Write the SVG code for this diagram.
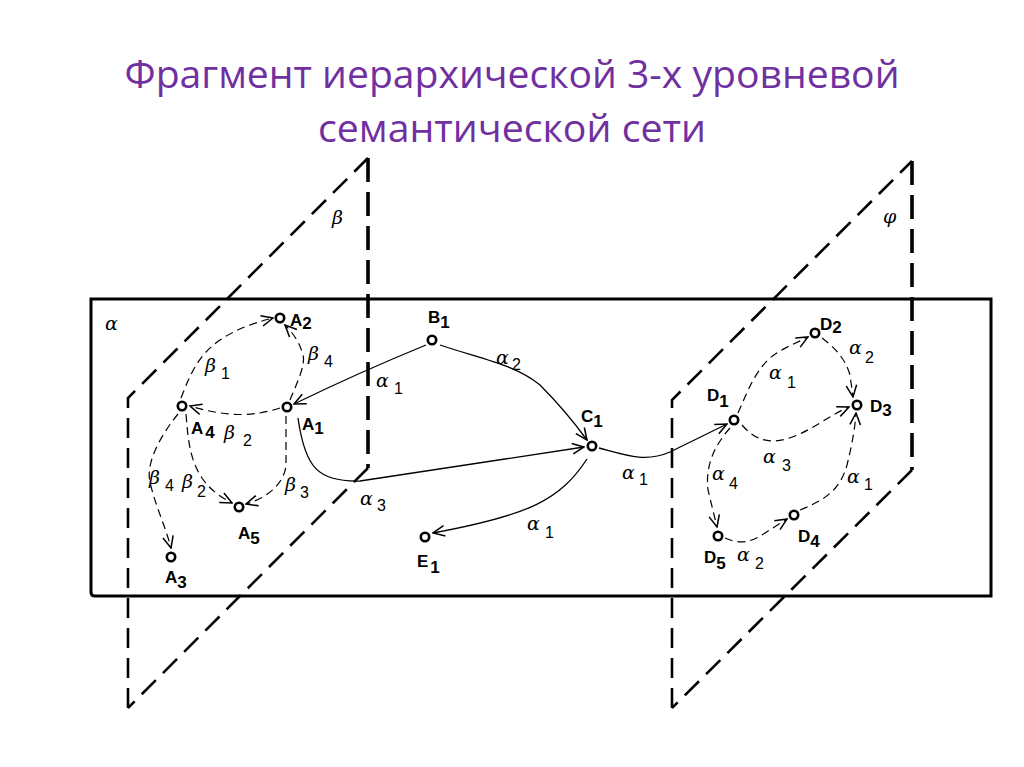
<svg xmlns="http://www.w3.org/2000/svg" width="1024" height="767" viewBox="0 0 1024 767">
<style>
.title{font-family:"Open Sans","Liberation Sans",sans-serif;font-size:38px;fill:#7030A0;text-anchor:middle}
.frame{fill:none;stroke:#000;stroke-width:3}
.plane{fill:none;stroke:#000;stroke-width:2.6;stroke-dasharray:20 10}
.planev{fill:none;stroke:#000;stroke-width:3.6;stroke-dasharray:24 10}
.node{fill:#fff;stroke:#000;stroke-width:2.6}
.lbl{font-family:"Liberation Sans",Arial,sans-serif;font-weight:bold;font-size:17px;fill:#000}
.sub{font-family:"Liberation Sans",Arial,sans-serif;font-weight:bold;font-size:17px;fill:#000}
.gk{font-family:"DejaVu Serif","Liberation Serif",serif;font-style:italic;font-size:19px;fill:#000}
.num{font-family:"Liberation Sans",Arial,sans-serif;font-size:16px;fill:#000}
.solid{fill:none;stroke:#000;stroke-width:1.3;marker-end:url(#arr)}
.dash{fill:none;stroke:#000;stroke-width:1.2;stroke-dasharray:8 5;marker-end:url(#arr)}
</style>
<defs>
<marker id="arr" markerUnits="userSpaceOnUse" markerWidth="14" markerHeight="14" viewBox="0 0 12 12" refX="11" refY="6" orient="auto">
<path d="M1,1.5 L11,6 L1,10.5" fill="none" stroke="#000" stroke-width="1.3"/>
</marker>
</defs>
<rect width="1024" height="767" fill="#fff"/>
<text class="title" x="512" y="88" textLength="775" lengthAdjust="spacingAndGlyphs">Фрагмент иерархической 3-х уровневой</text>
<text class="title" x="512" y="142" textLength="388" lengthAdjust="spacingAndGlyphs">семантической сети</text>

<g id="plane-alpha">
<path class="frame" d="M91,299 L991,299 L991,596 L95,596 Q91,596 91,592 Z"/>
<text class="gk" x="105" y="330">α</text>
</g>
<g id="plane-beta">
<path class="plane" d="M128,708 L128,398 L368,158"/>
<path class="planev" d="M368,158 L368,468"/>
<path class="plane" d="M368,468 L128,708"/>
<text class="gk" x="332" y="224">β</text>
</g>
<g id="plane-phi">
<path class="plane" d="M672,708 L672,400 L912,161"/>
<path class="planev" d="M912,161 L912,470"/>
<path class="plane" d="M912,470 L672,708"/>
<text class="gk" x="883" y="223">φ</text>
</g>

<g id="connectors">
<path class="solid" d="M426,345 Q360,372 294,404"/>
<path class="solid" d="M440,345 C485,360 515,365 540,385 Q565,410 587,440"/>
<path class="solid" d="M298,418 C305,468 318,482 360,481 L584,447"/>
<path class="solid" d="M599,448 C625,455 645,463 670,452 L727,424"/>
<path class="solid" d="M587,459 C560,500 530,515 433,533"/>
<path class="dash" d="M181,398 C190,375 198,355 220,340 C235,330 250,324 273,318"/>
<path class="dash" d="M290,400 C296,385 306,365 303,355 C300,343 293,333 285,325"/>
<path class="dash" d="M280,408 C255,416 230,418 190,406"/>
<path class="dash" d="M178,414 C165,430 145,460 150,482 C155,505 165,525 171,548"/>
<path class="dash" d="M186,414 C188,440 190,460 202,478 C210,490 222,498 232,503"/>
<path class="dash" d="M286,416 L286,466 C284,482 270,497 246,504"/>
<path class="dash" d="M738,413 C748,390 755,372 770,358 C782,348 795,344 808,337"/>
<path class="dash" d="M822,338 C835,348 845,358 850,375 L853,397"/>
<path class="dash" d="M742,425 C755,440 770,446 795,436 C815,428 830,415 849,407"/>
<path class="dash" d="M800,510 C825,500 840,490 847,465 C852,445 855,428 856,413"/>
<path class="dash" d="M730,428 C715,445 705,465 708,490 L717,527"/>
<path class="dash" d="M725,538 C740,545 752,542 765,533 L787,519"/>
</g>

<g id="edge-labels">
<text x="205" y="372"><tspan class="gk">β</tspan><tspan class="num" x="221" y="379">1</tspan></text>
<text x="308" y="360"><tspan class="gk">β</tspan><tspan class="num" x="324" y="367">4</tspan></text>
<text x="224" y="439"><tspan class="gk">β</tspan><tspan class="num" x="243" y="446">2</tspan></text>
<text x="149" y="484"><tspan class="gk">β</tspan><tspan class="num" x="165" y="491">4</tspan></text>
<text x="182" y="488"><tspan class="gk">β</tspan><tspan class="num" x="197" y="497">2</tspan></text>
<text x="285" y="491"><tspan class="gk">β</tspan><tspan class="num" x="300" y="498">3</tspan></text>
<text x="360" y="505"><tspan class="gk">α</tspan><tspan class="num" x="377" y="511">3</tspan></text>
<text x="376" y="387"><tspan class="gk">α</tspan><tspan class="num" x="394" y="394">1</tspan></text>
<text x="496" y="364"><tspan class="gk">α</tspan><tspan class="num" x="512" y="370">2</tspan></text>
<text x="622" y="479"><tspan class="gk">α</tspan><tspan class="num" x="639" y="485">1</tspan></text>
<text x="527" y="530"><tspan class="gk">α</tspan><tspan class="num" x="545" y="538">1</tspan></text>
<text x="769" y="379"><tspan class="gk">α</tspan><tspan class="num" x="787" y="388">1</tspan></text>
<text x="849" y="354"><tspan class="gk">α</tspan><tspan class="num" x="865" y="363">2</tspan></text>
<text x="763" y="463"><tspan class="gk">α</tspan><tspan class="num" x="782" y="471">3</tspan></text>
<text x="712" y="480"><tspan class="gk">α</tspan><tspan class="num" x="729" y="489">4</tspan></text>
<text x="847" y="483"><tspan class="gk">α</tspan><tspan class="num" x="864" y="490">1</tspan></text>
<text x="737" y="561"><tspan class="gk">α</tspan><tspan class="num" x="755" y="569">2</tspan></text>
</g>

<g id="node-A2"><circle class="node" cx="280" cy="318" r="4.2"/><text class="lbl" x="290" y="326">A<tspan class="sub" dy="3">2</tspan></text></g>
<g id="node-A4"><circle class="node" cx="182" cy="406" r="4.2"/><text class="lbl" x="191" y="434">A<tspan class="sub" dx="2" dy="4">4</tspan></text></g>
<g id="node-A1"><circle class="node" cx="287" cy="407" r="4.2"/><text class="lbl" x="302" y="430">A<tspan class="sub" dy="4">1</tspan></text></g>
<g id="node-A5"><circle class="node" cx="239" cy="507" r="4.2"/><text class="lbl" x="238" y="539">A<tspan class="sub" dy="5">5</tspan></text></g>
<g id="node-A3"><circle class="node" cx="171" cy="557" r="4.2"/><text class="lbl" x="165" y="583">A<tspan class="sub" dy="5">3</tspan></text></g>
<g id="node-B1"><circle class="node" cx="432" cy="340" r="4.2"/><text class="lbl" x="428" y="323">B<tspan class="sub" dy="5">1</tspan></text></g>
<g id="node-C1"><circle class="node" cx="592" cy="446" r="4.2"/><text class="lbl" x="581" y="422">C<tspan class="sub" dy="5">1</tspan></text></g>
<g id="node-E1"><circle class="node" cx="425" cy="537" r="4.2"/><text class="lbl" x="417" y="567">E<tspan class="sub" dx="2" dy="6">1</tspan></text></g>
<g id="node-D1"><circle class="node" cx="734" cy="420" r="4.2"/><text class="lbl" x="707" y="401">D<tspan class="sub" dy="6">1</tspan></text></g>
<g id="node-D2"><circle class="node" cx="815" cy="333" r="4.2"/><text class="lbl" x="820" y="330">D<tspan class="sub" dy="3">2</tspan></text></g>
<g id="node-D3"><circle class="node" cx="857" cy="405" r="4.2"/><text class="lbl" x="870" y="412">D<tspan class="sub" dy="4">3</tspan></text></g>
<g id="node-D4"><circle class="node" cx="794" cy="515" r="4.2"/><text class="lbl" x="798" y="542">D<tspan class="sub" dy="5">4</tspan></text></g>
<g id="node-D5"><circle class="node" cx="718" cy="536" r="4.2"/><text class="lbl" x="704" y="563">D<tspan class="sub" dy="6">5</tspan></text></g>
</svg>
